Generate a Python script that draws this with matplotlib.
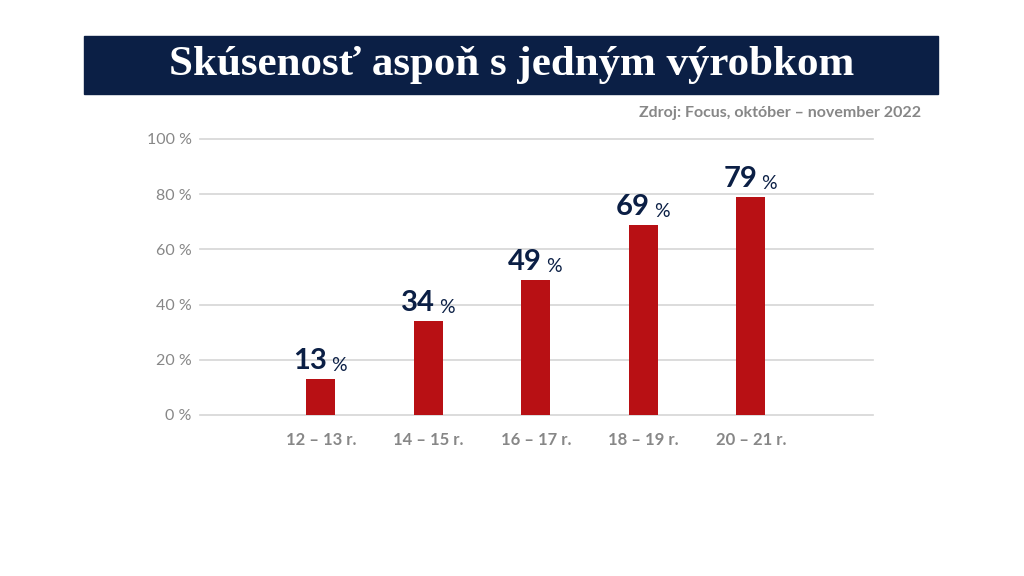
import matplotlib

matplotlib.use("Agg")
import matplotlib.pyplot as plt
import numpy as np

categories = ["12 – 13 r.", "14 – 15 r.", "16 – 17 r.", "18 – 19 r.", "20 – 21 r."]
values = [13, 34, 49, 69, 79]
y_ticks = [0, 20, 40, 60, 80, 100]
title = "Skúsenosť aspoň s jedným výrobkom"
source = "Zdroj: Focus, október – november 2022"

NAVY = "#0b1f45"
RED = "#b81014"
GREY = "#878787"

plt.rcParams["font.family"] = ["Lato", "DejaVu Sans"]

fig = plt.figure(figsize=(10.24, 5.76), dpi=100)

# title banner
fig.patches.append(plt.Rectangle((84 / 1024, 1 - 94 / 576), (938 - 84) / 1024, 58 / 576,
                                 transform=fig.transFigure, color=NAVY, zorder=0))
fig.text(0.5, 1 - 65 / 576, title, ha="center", va="center", color="white",
         fontsize=31, fontweight="bold", family=["Liberation Serif", "DejaVu Serif"])
fig.text(921 / 1024, 1 - 113 / 576, source, ha="right", va="center", color=GREY,
         fontsize=11.5, fontweight="bold")

ax = fig.add_axes([200 / 1024, 161 / 576, 673 / 1024, 276 / 576])
x = np.arange(len(categories))
ax.bar(x, values, width=0.27, color=RED, zorder=3)

ax.set_ylim(0, 100)
ax.set_xlim(-1.125, 5.135)
ax.set_yticks(y_ticks)
ax.set_yticklabels([f"{t} %" for t in y_ticks])
ax.set_xticks(x)
ax.set_xticklabels(categories, fontweight="bold")
ax.grid(axis="y", color="#d5d5d5", linewidth=1.2, zorder=0)
for line in ax.get_ygridlines():
    line.set_clip_on(False)
for s in ax.spines.values():
    s.set_visible(False)
ax.tick_params(axis="both", length=0, colors=GREY)
ax.tick_params(axis="y", labelsize=11.5, pad=6)
ax.tick_params(axis="x", labelsize=12, pad=12)

for xi, v in zip(x, values):
    ax.annotate(str(v), (xi, v), xytext=(4.5, 3.5), textcoords="offset points",
                ha="right", va="bottom", fontsize=21, fontweight="bold", color=NAVY)
    ax.annotate("%", (xi, v), xytext=(7.5, 3.5), textcoords="offset points",
                ha="left", va="bottom", fontsize=14, color=NAVY)

fig.savefig("out.png", dpi=100)
